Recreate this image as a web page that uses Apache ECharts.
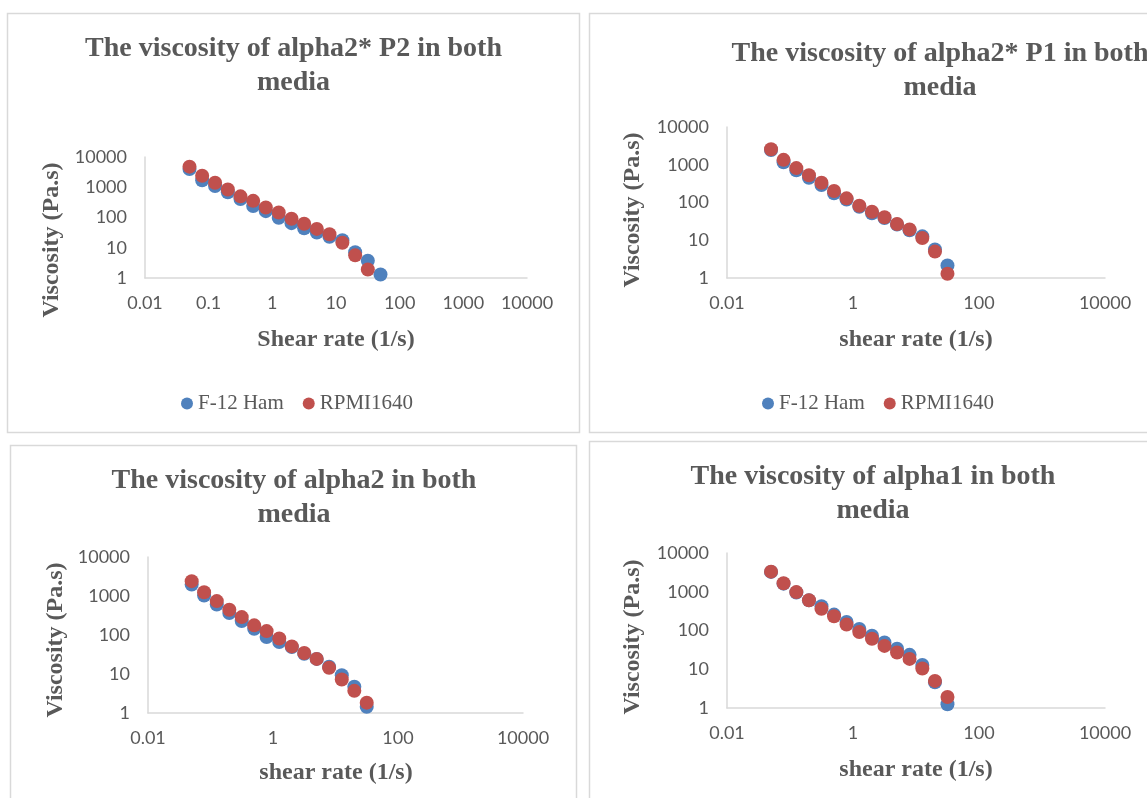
<!DOCTYPE html>
<html><head><meta charset="utf-8">
<script src="https://cdn.jsdelivr.net/npm/echarts@6/dist/echarts.min.js"></script>
<style>html,body{margin:0;padding:0;background:#fff}#c{width:1147px;height:798px}</style>
</head><body><div id="c"></div>
<script>
// Shear rates (1/s) (same sweep in every panel)
const shearRate = [0.05, 0.079, 0.126, 0.2, 0.316, 0.5, 0.79, 1.26, 2.0, 3.16, 5.0, 7.9, 12.6, 20, 31.6, 50];

// Panel titles
const titles = [
  'The viscosity of alpha2* P2 in both\nmedia',
  'The viscosity of alpha2* P1 in both\nmedia',
  'The viscosity of alpha2 in both\nmedia',
  'The viscosity of alpha1 in both\nmedia'
];
const xNames = ['Shear rate (1/s)', 'shear rate (1/s)', 'shear rate (1/s)', 'shear rate (1/s)'];
const yName = 'Viscosity (Pa.s)';
const seriesNames = ['F-12 Ham', 'RPMI1640'];

// Viscosity (Pa.s) values
const p2F12  = [4000, 1700, 1090, 680, 405, 240, 162, 98, 65, 44, 32, 23, 17.6, 7.1, 3.7, 1.30];
const p2RPMI = [4800, 2400, 1410, 840, 500, 355, 215, 146, 91, 62, 42, 28, 14.7, 5.6, 1.92];
const p1F12  = [2450, 1170, 710, 450, 290, 175, 120, 77, 52, 39, 26, 18.3, 12.7, 5.7, 2.14];
const p1RPMI = [2570, 1350, 815, 526, 333, 201, 129, 82, 57, 40.5, 27, 19.4, 11.5, 5.0, 1.30];
const a2F12  = [1960, 1030, 605, 365, 227, 145, 89, 66, 49, 33, 24.4, 15.3, 9.3, 4.7, 1.45];
const a2RPMI = [2400, 1250, 740, 445, 288, 177, 126, 81, 51, 34.7, 24.4, 14.4, 7.2, 3.7, 1.84];
const a1F12  = [3250, 1620, 960, 600, 425, 257, 166, 109, 73, 49, 34, 23.5, 12.9, 4.6, 1.25];
const a1RPMI = [3300, 1650, 980, 605, 362, 233, 142, 91, 61, 40, 27, 18.5, 10.5, 5.0, 1.93];

// Tick labels
const xTicksAll = ['0.01', '0.1', '1', '10', '100', '1000', '10000'];
const xTicksEven = ['0.01', '1', '100', '10000'];
const yTicks = ['1', '10', '100', '1000', '10000'];

const panelData = [[p2F12, p2RPMI], [p1F12, p1RPMI], [a2F12, a2RPMI], [a1F12, a1RPMI]];
const panelXTicks = [xTicksAll, xTicksEven, xTicksEven, xTicksEven];

// Layout (pixels)
const grids = [
  {left: 145, top: 157, width: 382, height: 121},
  {left: 727, top: 127, width: 378, height: 151},
  {left: 148, top: 557, width: 375, height: 156},
  {left: 727, top: 553, width: 378, height: 155}
];
const boxes = [
  {x: 7.5, y: 13.5, w: 572, h: 419},
  {x: 589.5, y: 13.5, w: 700, h: 419},
  {x: 10.5, y: 445.5, w: 566, h: 500},
  {x: 589.5, y: 441.5, w: 570, h: 500}
];
const titlePos = [[293.5, 66], [940, 71], [294, 498], [873, 494]];
const yNamePos = [[52, 240], [633, 210], [56, 640], [633, 637]];
const xNamePos = [[336, 340], [916, 340], [336, 773], [916, 770]];

const COLORS = ['#4F81BD', '#C0504D'];
const TXT = '#595959';
const AXIS = '#d9d9d9';

function pick(list, v) {
  const lv = Math.log10(v);
  for (const s of list) {
    if (Math.abs(Math.log10(parseFloat(s)) - lv) < 1e-6) return s;
  }
  return '';
}

const xAxes = [], yAxes = [], series = [], graphic = [];
grids.forEach((g, i) => {
  xAxes.push({
    type: 'log', logBase: 10, gridIndex: i, min: 0.01, max: 10000,
    axisLine: {show: true, onZero: false, lineStyle: {color: AXIS, width: 1.5}},
    axisTick: {show: false}, splitLine: {show: false},
    axisLabel: {margin: 16, color: TXT, fontFamily: 'Lato', fontSize: 18,
      formatter: v => pick(panelXTicks[i], v)}
  });
  yAxes.push({
    type: 'log', logBase: 10, gridIndex: i, min: 1, max: 10000,
    axisLine: {show: true, onZero: false, lineStyle: {color: AXIS, width: 1.5}},
    axisTick: {show: false}, splitLine: {show: false},
    axisLabel: {margin: 18, color: TXT, fontFamily: 'Lato', fontSize: 18,
      formatter: v => pick(yTicks, v)}
  });
  panelData[i].forEach((vals, k) => {
    series.push({
      type: 'scatter', name: seriesNames[k], xAxisIndex: i, yAxisIndex: i,
      symbol: 'circle', symbolSize: 14,
      itemStyle: {color: COLORS[k], opacity: 1},
      data: vals.map((v, j) => [shearRate[j], v])
    });
  });
  const b = boxes[i];
  graphic.push({type: 'rect', z: -1, shape: {x: b.x, y: b.y, width: b.w, height: b.h},
    style: {fill: '#fff', stroke: '#d9d9d9', lineWidth: 1.5}});
  graphic.push({type: 'text', x: titlePos[i][0], y: titlePos[i][1],
    style: {text: titles[i], align: 'center', verticalAlign: 'middle', fill: TXT,
      fontFamily: 'Liberation Serif', fontWeight: 'bold', fontSize: 28, lineHeight: 34}});
  graphic.push({type: 'text', x: yNamePos[i][0], y: yNamePos[i][1], rotation: Math.PI / 2,
    style: {text: yName, align: 'center', verticalAlign: 'middle', fill: TXT,
      fontFamily: 'Liberation Serif', fontWeight: 'bold', fontSize: 24}});
  graphic.push({type: 'text', x: xNamePos[i][0], y: xNamePos[i][1],
    style: {text: xNames[i], align: 'center', verticalAlign: 'middle', fill: TXT,
      fontFamily: 'Liberation Serif', fontWeight: 'bold', fontSize: 24}});
});

const legendBase = {
  data: seriesNames, icon: 'circle', itemWidth: 12, itemHeight: 12, itemGap: 19,
  textStyle: {fontFamily: 'Liberation Serif', fontSize: 21, color: TXT}
};

const chart = echarts.init(document.getElementById('c'), null, {renderer: 'canvas'});
chart.setOption({
  backgroundColor: '#fff',
  animation: false,
  grid: grids.map(g => Object.assign({outerBoundsMode: 'none', containLabel: false}, g)),
  xAxis: xAxes,
  yAxis: yAxes,
  legend: [
    Object.assign({left: 176, top: 388}, legendBase),
    Object.assign({left: 757, top: 388}, legendBase)
  ],
  graphic: {elements: graphic},
  series: series
});
</script>
</body></html>
